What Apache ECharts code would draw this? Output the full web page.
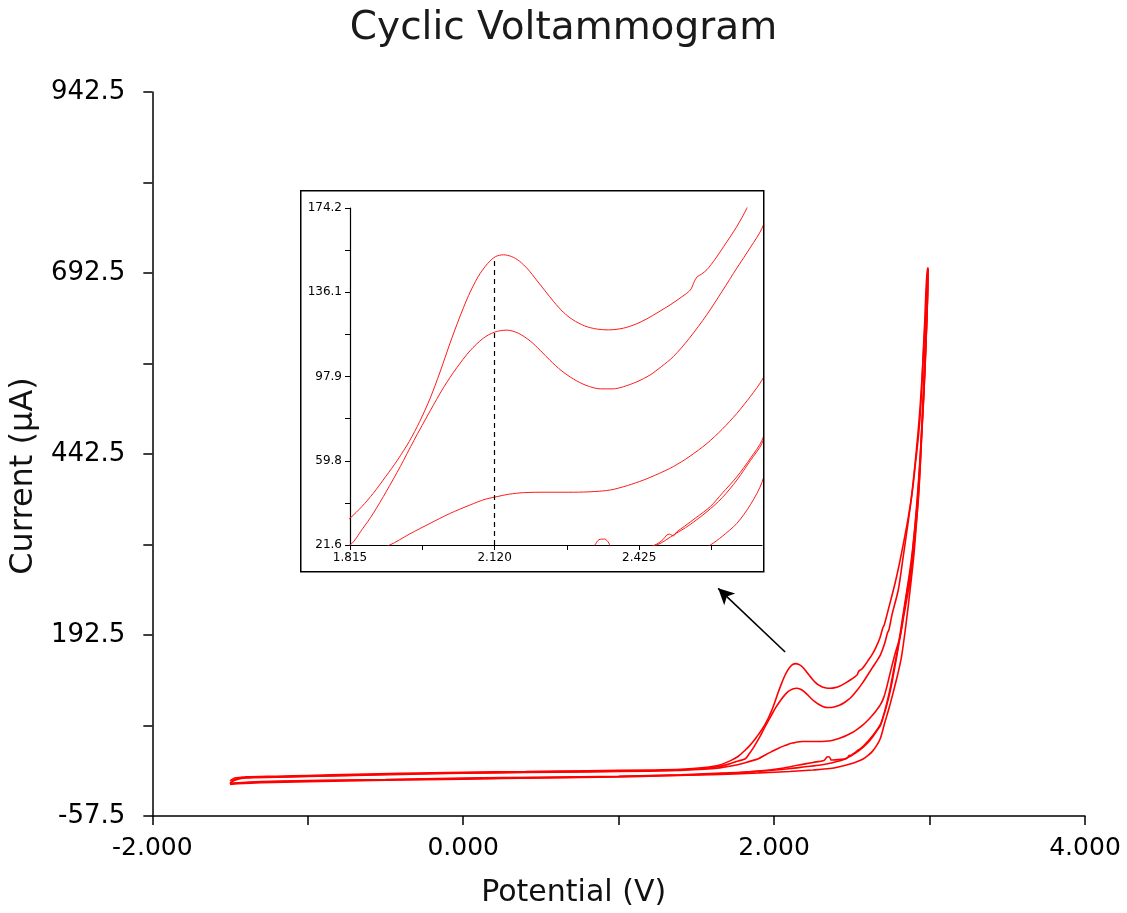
<!DOCTYPE html>
<html><head><meta charset="utf-8">
<script src="https://cdn.jsdelivr.net/npm/echarts@6/dist/echarts.min.js"></script>
<style>html,body{margin:0;padding:0;background:#fff}#chart{width:1127px;height:913px}</style>
</head><body><div id="chart"></div>
<script>
// ---- tick / label values ----
const mainXTicks = [-2, -1, 0, 1, 2, 3, 4];
const mainXLabels = [-2, 0, 2, 4];
const mainYTicks = [-57.5, 67.5, 192.5, 317.5, 442.5, 567.5, 692.5, 817.5, 942.5];
const mainYLabels = [-57.5, 192.5, 442.5, 692.5, 942.5];
const insetXTicks = [1.815, 1.9675, 2.12, 2.2725, 2.425, 2.5775];
const insetXLabels = [1.815, 2.12, 2.425];
const insetYTicks = [21.6, 40.675, 59.75, 78.825, 97.9, 116.975, 136.05, 155.125, 174.2];
const insetYLabels = [21.6, 59.8, 97.9, 136.1, 174.2];
const peakPotential = 2.12;
const peakCurrent = 152;
const arrowFrom = [2.071, 169];
const arrowTo = [1.640, 257];

// ---- data: [potential V, current uA] ----
const cycle1 = [
[-1.50,-9],[-1.47,-5],[-1.40,-3.5],[-1.20,-2.5],[-1.00,-1.5],[-0.70,0],[-0.40,1.5],[0.00,3],[0.40,4],[0.80,5],[1.20,6],[1.40,7],[1.55,9.5],[1.65,13],[1.72,19],[1.77,25],
[1.815,33.7],[1.840,39.0],[1.864,45.0],[1.890,52.5],[1.915,60.0],[1.940,68.5],[1.962,77.5],[1.984,88.0],[2.005,100.0],[2.026,113.0],[2.045,124.0],[2.065,134.5],[2.085,143.0],[2.105,149.0],[2.122,152.2],[2.139,153.0],[2.156,152.2],[2.172,150.2],[2.190,146.5],[2.208,141.7],[2.226,136.8],[2.245,131.7],[2.265,127.0],[2.285,123.6],[2.310,120.8],[2.335,119.4],[2.360,119.0],[2.392,119.8],[2.420,121.8],[2.441,124.0],[2.465,127.0],[2.490,130.3],[2.515,134.0],[2.533,137.1],[2.541,140.8],[2.547,143.0],[2.556,144.2],[2.568,146.3],[2.585,151.0],[2.603,156.7],[2.630,165.5],[2.652,174.1],[2.680,188],[2.700,203],[2.708,206],[2.74,232],[2.778,264],[2.805,290],[2.832,319],[2.855,345],[2.875,370],[2.892,396],[2.907,425],[2.925,460],[2.939,494],[2.950,535],[2.960,586],[2.970,630],[2.977,669],[2.985,695],[2.990,700],
[2.988,672],[2.984,640],[2.978,600],[2.971,563],[2.962,520],[2.950,472],[2.940,425],[2.928,380],[2.912,342],[2.896,310],[2.875,278],[2.853,250],[2.822,205],[2.789,163],[2.75,118],[2.72,92],[2.703,80],[2.684,67.6],[2.660,60],[2.631,51],[2.600,43],[2.568,36.7],[2.530,30.5],[2.50,26.5],[2.462,21.6],[2.420,20.5],[2.380,19.8],[2.366,19.8],[2.361,22.5],[2.352,24.3],[2.340,24.0],[2.331,21.5],[2.32,19.3],[2.25,16.5],[2.15,12.5],[2.05,8.5],[1.90,4.5],[1.70,1.5],[1.40,-1],[1.00,-3],[0.50,-4.5],[0.00,-6],[-0.50,-7.5],[-1.00,-9],[-1.30,-10.5],[-1.45,-12],[-1.50,-13]
];
const cycle2 = [
[-1.50,-13],[-1.48,-8],[-1.42,-4.5],[-1.20,-3.5],[-1.00,-2.5],[-0.70,-1],[-0.40,0.5],[0.00,2],[0.40,3],[0.80,4],[1.20,5],[1.40,6],[1.55,8],[1.65,11],[1.72,15],[1.77,18.5],
[1.815,21.6],[1.840,28.5],[1.864,35.9],[1.892,46.0],[1.921,57.1],[1.950,69.0],[1.984,82.3],[2.012,92.8],[2.040,101.8],[2.068,109.5],[2.096,115.2],[2.120,118.0],[2.146,118.9],[2.170,117.5],[2.195,114.0],[2.216,109.8],[2.237,105.2],[2.260,100.7],[2.286,96.8],[2.313,93.9],[2.343,92.3],[2.370,92.3],[2.392,93.3],[2.420,95.5],[2.448,98.6],[2.472,102.4],[2.497,106.9],[2.530,115.0],[2.568,126.0],[2.600,136.5],[2.631,147.0],[2.660,156.5],[2.684,165.0],[2.710,180],[2.730,196],[2.738,199],[2.760,222],[2.799,255],[2.830,300],[2.860,345],[2.885,385],[2.905,425],[2.925,470],[2.940,510],[2.955,560],[2.968,610],[2.978,650],[2.985,685],[2.990,698],
[2.988,665],[2.983,630],[2.976,595],[2.968,555],[2.958,510],[2.947,465],[2.935,420],[2.922,378],[2.905,340],[2.885,300],[2.860,262],[2.835,228],[2.800,180],[2.770,145],[2.740,112],[2.710,86],[2.684,69],[2.660,61],[2.631,52.5],[2.600,45],[2.575,39],[2.545,34],[2.520,30],[2.504,27.5],[2.497,25.7],[2.489,26.5],[2.483,26.1],[2.475,24],[2.462,22],[2.440,20],[2.400,17.5],[2.360,15.3],[2.300,13],[2.200,10.5],[2.100,8],[1.950,5],[1.700,2],[1.400,-0.5],[1.000,-2.5],[0.500,-4],[0.000,-5],[-0.500,-7],[-1.000,-8.5],[-1.300,-10],[-1.450,-11.5],[-1.500,-12.5]
];
const cycle3 = [
[-1.50,-12.5],[-1.47,-8],[-1.40,-5],[-1.20,-4],[-1.00,-3],[-0.70,-1.5],[-0.40,0],[0.00,1.5],[0.40,2.5],[0.80,3.5],[1.20,4.5],[1.40,5.5],[1.55,7],[1.65,9],[1.75,12.5],[1.82,16.5],[1.860,19],
[1.899,21.6],[1.940,26.5],[1.984,31.4],[2.025,35.8],[2.068,39.7],[2.100,42.3],[2.125,43.5],[2.150,44.6],[2.181,45.3],[2.230,45.5],[2.286,45.5],[2.330,45.8],[2.364,46.5],[2.400,48.5],[2.434,51.0],[2.465,53.8],[2.497,57.1],[2.530,61.5],[2.568,67.6],[2.600,74],[2.631,81.2],[2.660,89],[2.684,96.3],[2.705,106],[2.725,121],[2.750,143],[2.780,168],[2.810,190],[2.835,220],[2.864,255],[2.885,295],[2.905,340],[2.922,385],[2.937,430],[2.950,480],[2.962,540],[2.972,600],[2.981,650],[2.988,690],[2.990,697],
[2.988,670],[2.984,640],[2.978,605],[2.971,563],[2.962,520],[2.950,472],[2.940,428],[2.928,385],[2.915,345],[2.900,305],[2.875,255],[2.850,210],[2.820,163],[2.795,138],[2.767,114],[2.740,92],[2.710,70],[2.684,50],[2.660,40],[2.631,31.4],[2.600,25.5],[2.575,21.6],[2.540,18],[2.500,15],[2.420,10.5],[2.360,8],[2.250,6],[2.100,4],[1.900,2],[1.600,-0.5],[1.300,-2],[1.000,-3.5],[0.500,-5],[0.000,-6.5],[-0.500,-8],[-1.000,-10],[-1.300,-11.5],[-1.450,-13],[-1.500,-14]
];
const cycles = [cycle1, cycle2, cycle3];
const cycleNames = ['Cycle 1', 'Cycle 2', 'Cycle 3'];

const FONT = 'DejaVu Sans';
const chart = echarts.init(document.getElementById('chart'), null, {renderer: 'canvas'});

const series = [];
cycles.forEach((c, i) => {
  series.push({
    name: cycleNames[i], type: 'line', xAxisIndex: 0, yAxisIndex: 0, data: c,
    showSymbol: false, symbol: 'none', smooth: 0.3, silent: true,
    lineStyle: {color: '#ff0000', width: 1.6}, z: 3,
    markLine: i === 0 ? {
      silent: true, symbol: ['none', 'arrow'], symbolSize: [12, 16], label: {show: false},
      lineStyle: {color: '#000', width: 1.6, type: 'solid'}, emphasis: {disabled: true},
      data: [[{coord: arrowFrom}, {coord: arrowTo}]]
    } : undefined
  });
});
cycles.forEach((c, i) => {
  series.push({
    name: cycleNames[i] + ' (zoom)', type: 'line', xAxisIndex: 1, yAxisIndex: 1, data: c,
    showSymbol: false, symbol: 'none', smooth: 0.3, silent: true, clip: true,
    lineStyle: {color: '#ff1a1a', width: 1}, z: 3,
    markLine: i === 0 ? {
      silent: true, symbol: ['none', 'none'], label: {show: false},
      lineStyle: {color: '#000', width: 1.2, type: [5, 4]}, emphasis: {disabled: true},
      data: [[{coord: [peakPotential, insetYTicks[0]]}, {coord: [peakPotential, peakCurrent]}]]
    } : undefined
  });
});

const axisLineStyle = {color: '#000', width: 1.5};

chart.setOption({
  animation: false,
  backgroundColor: '#fff',
  title: {
    text: 'Cyclic Voltammogram', left: 'center', top: 4,
    textStyle: {fontFamily: FONT, fontSize: 39, fontWeight: 'normal', color: '#1a1a1a'}
  },
  grid: [
    {left: 152, right: 42, top: 92, bottom: 97},
    {left: 350, right: 365, top: 208, bottom: 368}
  ],
  graphic: [{
    type: 'rect', left: 300, top: 190, z: -1, silent: true,
    shape: {width: 463, height: 381},
    style: {fill: 'rgba(0,0,0,0)', stroke: '#000', lineWidth: 1.5}
  }],
  xAxis: [
    {
      type: 'value', gridIndex: 0, min: -2, max: 4,
      axisLine: {show: true, onZero: false, lineStyle: axisLineStyle},
      axisTick: {show: true, inside: false, length: 9, customValues: mainXTicks, lineStyle: axisLineStyle},
      axisLabel: {customValues: mainXLabels, formatter: v => v.toFixed(3), fontFamily: FONT, fontSize: 25, color: '#000', margin: 20},
      splitLine: {show: false},
      name: 'Potential (V)', nameLocation: 'middle', nameGap: 62,
      nameTextStyle: {fontFamily: FONT, fontSize: 30, color: '#111', padding: [0, 90, 0, 0]}
    },
    {
      type: 'value', gridIndex: 1, min: 1.815, max: 2.684,
      axisLine: {show: true, onZero: false, lineStyle: {color: '#000', width: 1.2}},
      axisTick: {show: true, inside: false, length: 5, customValues: insetXTicks, lineStyle: {color: '#000', width: 1}},
      axisLabel: {customValues: insetXLabels, formatter: v => v.toFixed(3), fontFamily: FONT, fontSize: 12, color: '#000', margin: 7},
      splitLine: {show: false}
    }
  ],
  yAxis: [
    {
      type: 'value', gridIndex: 0, min: -57.5, max: 942.5,
      axisLine: {show: true, onZero: false, lineStyle: axisLineStyle},
      axisTick: {show: true, inside: false, length: 9, customValues: mainYTicks, lineStyle: axisLineStyle},
      axisLabel: {customValues: mainYLabels, formatter: v => v.toFixed(1), fontFamily: FONT, fontSize: 26, color: '#000', margin: 27},
      splitLine: {show: false},
      name: 'Current (μA)', nameLocation: 'middle', nameRotate: 90, nameGap: 98,
      nameTextStyle: {fontFamily: FONT, fontSize: 32, color: '#111', padding: [0, 44, 0, 0]}
    },
    {
      type: 'value', gridIndex: 1, min: 21.6, max: 174.2,
      axisLine: {show: true, onZero: false, lineStyle: {color: '#000', width: 1.2}},
      axisTick: {show: true, inside: false, length: 5, customValues: insetYTicks, lineStyle: {color: '#000', width: 1}},
      axisLabel: {customValues: insetYLabels, formatter: v => v.toFixed(1), fontFamily: FONT, fontSize: 12, color: '#000', margin: 8},
      splitLine: {show: false}
    }
  ],
  series: series
});
</script></body></html>
